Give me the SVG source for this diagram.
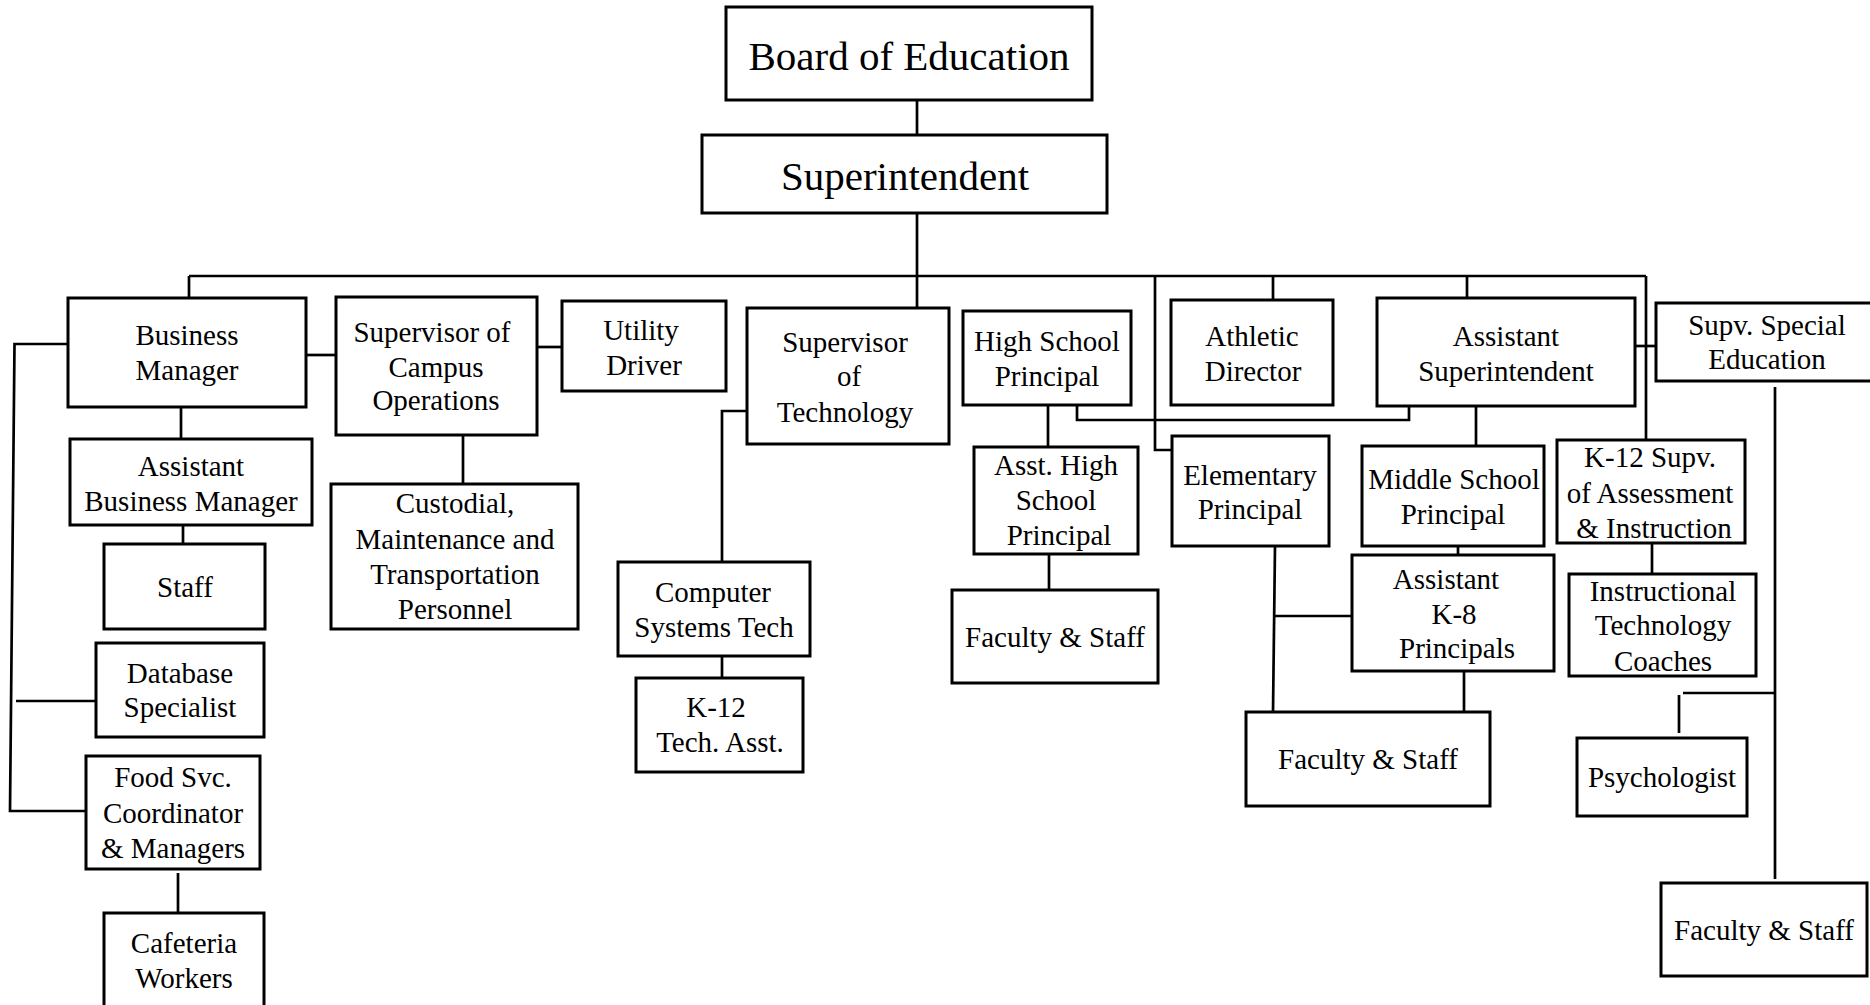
<svg xmlns="http://www.w3.org/2000/svg" width="1870" height="1005" viewBox="0 0 1870 1005">
<style>
.box{fill:#fff;stroke:#000;stroke-width:3}
.ln{fill:none;stroke:#000;stroke-width:2.7}
text{font-family:"Liberation Serif","Times New Roman",serif;font-size:29px;text-anchor:middle;fill:#000}
.big{font-size:41px}
</style>
<rect width="1870" height="1005" fill="#fff"/>
<g id="connectors">
<path class="ln" d="M917,100V135"/>
<path class="ln" d="M917,213V308"/>
<path class="ln" d="M189,276H1646"/>
<path class="ln" d="M189,276V298"/>
<path class="ln" d="M1273,276V300"/>
<path class="ln" d="M1467,276V298"/>
<path class="ln" d="M1155,276V450H1172"/>
<path class="ln" d="M1646,276V440"/>
<path class="ln" d="M68,344H14.5L10,811H86"/>
<path class="ln" d="M16,701H96"/>
<path class="ln" d="M181,407V439"/>
<path class="ln" d="M183,525V544"/>
<path class="ln" d="M306,355H336"/>
<path class="ln" d="M537,347H562"/>
<path class="ln" d="M463,432V484"/>
<path class="ln" d="M178,873V913"/>
<path class="ln" d="M747,411H722V562"/>
<path class="ln" d="M722,656V678"/>
<path class="ln" d="M1048,405V447"/>
<path class="ln" d="M1049,554V590"/>
<path class="ln" d="M1077,405V420H1409V406"/>
<path class="ln" d="M1635,346H1656"/>
<path class="ln" d="M1476,406V446"/>
<path class="ln" d="M1458,546V555"/>
<path class="ln" d="M1275,546L1273,712"/>
<path class="ln" d="M1274,616H1352"/>
<path class="ln" d="M1464,671V712"/>
<path class="ln" d="M1652,543V574"/>
<path class="ln" d="M1775,387V879"/>
<path class="ln" d="M1683,693H1775"/>
<path class="ln" d="M1679,695V733"/>
</g>
<g id="board"><rect class="box" x="726" y="7" width="366" height="93"/><text class="big" x="909" y="70">Board of Education</text></g>
<g id="superintendent"><rect class="box" x="702" y="135" width="405" height="78"/><text class="big" x="905" y="190">Superintendent</text></g>
<g id="business-manager"><rect class="box" x="68" y="298" width="238" height="109"/><text x="187" y="345">Business</text><text x="187" y="380">Manager</text></g>
<g id="asst-business-manager"><rect class="box" x="70" y="439" width="242" height="86"/><text x="191" y="476">Assistant</text><text x="191" y="511">Business Manager</text></g>
<g id="staff"><rect class="box" x="104" y="544" width="161" height="85"/><text x="185" y="597">Staff</text></g>
<g id="database"><rect class="box" x="96" y="643" width="168" height="94"/><text x="180" y="683">Database</text><text x="180" y="717">Specialist</text></g>
<g id="food"><rect class="box" x="86" y="756" width="174" height="113"/><text x="173" y="787">Food Svc.</text><text x="173" y="823">Coordinator</text><text x="173" y="858">&amp; Managers</text></g>
<g id="cafeteria"><rect class="box" x="104" y="913" width="160" height="110"/><text x="184" y="953">Cafeteria</text><text x="184" y="988">Workers</text></g>
<g id="campus"><rect class="box" x="336" y="297" width="201" height="138"/><text x="432" y="342">Supervisor of</text><text x="436" y="377">Campus</text><text x="436" y="410">Operations</text></g>
<g id="custodial"><rect class="box" x="331" y="484" width="247" height="145"/><text x="455" y="513">Custodial,</text><text x="455" y="549">Maintenance and</text><text x="455" y="584">Transportation</text><text x="455" y="619">Personnel</text></g>
<g id="utility"><rect class="box" x="562" y="301" width="164" height="90"/><text x="641" y="340">Utility</text><text x="644" y="375">Driver</text></g>
<g id="tech"><rect class="box" x="747" y="308" width="202" height="136"/><text x="845" y="352">Supervisor</text><text x="849" y="386">of</text><text x="845" y="422">Technology</text></g>
<g id="computer"><rect class="box" x="618" y="562" width="192" height="94"/><text x="713" y="602">Computer</text><text x="714" y="637">Systems Tech</text></g>
<g id="k12-tech"><rect class="box" x="636" y="678" width="167" height="94"/><text x="716" y="717">K-12</text><text x="720" y="752">Tech. Asst.</text></g>
<g id="hs-principal"><rect class="box" x="963" y="311" width="168" height="94"/><text x="1047" y="351">High School</text><text x="1047" y="386">Principal</text></g>
<g id="asst-hs"><rect class="box" x="974" y="447" width="164" height="107"/><text x="1056" y="475">Asst. High</text><text x="1056" y="510">School</text><text x="1059" y="545">Principal</text></g>
<g id="fs-hs"><rect class="box" x="952" y="590" width="206" height="93"/><text x="1055" y="647">Faculty &amp; Staff</text></g>
<g id="athletic"><rect class="box" x="1171" y="300" width="162" height="105"/><text x="1252" y="346">Athletic</text><text x="1253" y="381">Director</text></g>
<g id="asst-supt"><rect class="box" x="1377" y="298" width="258" height="108"/><text x="1506" y="346">Assistant</text><text x="1506" y="381">Superintendent</text></g>
<g id="elementary"><rect class="box" x="1172" y="436" width="157" height="110"/><text x="1250" y="485">Elementary</text><text x="1250" y="519">Principal</text></g>
<g id="middle"><rect class="box" x="1362" y="446" width="182" height="100"/><text x="1454" y="489">Middle School</text><text x="1453" y="524">Principal</text></g>
<g id="asst-k8"><rect class="box" x="1352" y="555" width="202" height="116"/><text x="1446" y="589">Assistant</text><text x="1454" y="624">K-8</text><text x="1457" y="658">Principals</text></g>
<g id="fs-elem"><rect class="box" x="1246" y="712" width="244" height="94"/><text x="1368" y="769">Faculty &amp; Staff</text></g>
<g id="k12-supv"><rect class="box" x="1557" y="440" width="188" height="103"/><text x="1650" y="467">K-12 Supv.</text><text x="1650" y="503">of Assessment</text><text x="1654" y="538">&amp; Instruction</text></g>
<g id="itc"><rect class="box" x="1569" y="574" width="187" height="102"/><text x="1663" y="601">Instructional</text><text x="1663" y="635">Technology</text><text x="1663" y="671">Coaches</text></g>
<g id="sped"><rect class="box" x="1656" y="303" width="220" height="78"/><text x="1767" y="335">Supv. Special</text><text x="1767" y="369">Education</text></g>
<g id="psychologist"><rect class="box" x="1577" y="738" width="170" height="78"/><text x="1662" y="787">Psychologist</text></g>
<g id="fs-sped"><rect class="box" x="1661" y="883" width="206" height="93"/><text x="1764" y="940">Faculty &amp; Staff</text></g>
</svg>
